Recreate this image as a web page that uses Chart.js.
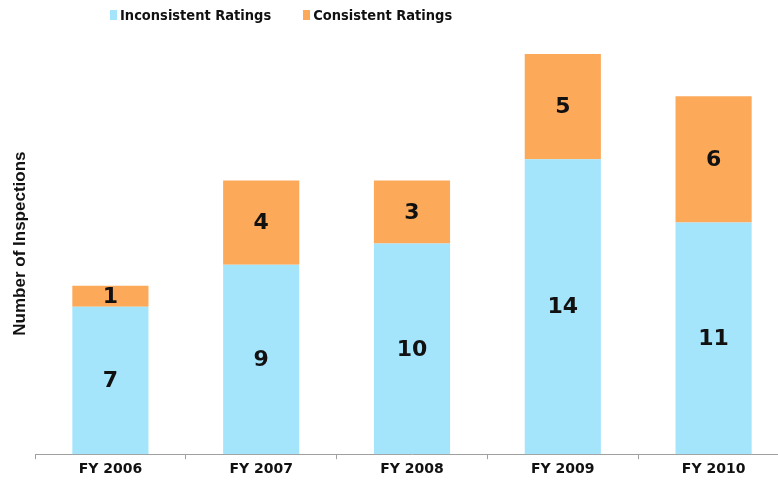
<!DOCTYPE html>
<html lang="en">
<head>
  <meta charset="UTF-8" />
  <title>Number of Inspections</title>
  <script src="https://cdn.jsdelivr.net/npm/chart.js"></script>
  <style>
    html, body { margin: 0; padding: 0; background: #fff; overflow: hidden; }
    .wrap { position: relative; width: 778px; height: 481px; overflow: hidden; }
    #legend {
      position: absolute;
      left: 110px;
      top: 7px;
      display: flex;
      font: bold 14.5px "DejaVu Sans Condensed", "DejaVu Sans", sans-serif;
      color: #111;
    }
    #legend .item { display: flex; align-items: center; margin-right: 32px; }
    #legend .box { width: 7px; height: 10px; margin-right: 3px; }
  </style>
</head>
<body>
  <div class="wrap">
    <!-- the plot runs a little past the right edge, as in the original -->
    <canvas id="chart" width="790" height="481"></canvas>
    <div id="legend"></div>
  </div>

  <script>
    const categories = ['FY 2006', 'FY 2007', 'FY 2008', 'FY 2009', 'FY 2010'];
    const inconsistent = [7, 9, 10, 14, 11];
    const consistent = [1, 4, 3, 5, 6];

    // numbers in the middle of each segment
    const segmentLabels = {
      id: 'segmentLabels',
      afterDatasetsDraw(chart) {
        const ctx = chart.ctx;
        ctx.save();
        ctx.font = 'bold 22px "DejaVu Sans", sans-serif';
        ctx.fillStyle = '#111';
        ctx.textAlign = 'center';
        ctx.textBaseline = 'middle';
        chart.data.datasets.forEach((ds, i) => {
          chart.getDatasetMeta(i).data.forEach((bar, j) => {
            ctx.fillText(ds.data[j], bar.x, (bar.y + bar.base) / 2 + 1);
          });
        });
        ctx.restore();
      }
    };

    // legend drawn as html, built from the chart's own legend items
    const htmlLegend = {
      id: 'htmlLegend',
      afterUpdate(chart) {
        const el = document.getElementById('legend');
        el.innerHTML = '';
        const items = chart.options.plugins.legend.labels.generateLabels(chart);
        items.forEach(item => {
          const div = document.createElement('div');
          div.className = 'item';
          const box = document.createElement('span');
          box.className = 'box';
          box.style.background = item.fillStyle;
          const txt = document.createElement('span');
          txt.textContent = item.text;
          div.appendChild(box);
          div.appendChild(txt);
          el.appendChild(div);
        });
      }
    };

    new Chart(document.getElementById('chart'), {
      type: 'bar',
      data: {
        labels: categories,
        datasets: [
          {
            label: 'Inconsistent Ratings',
            data: inconsistent,
            backgroundColor: '#a4e5fc',
            categoryPercentage: 0.505,
            barPercentage: 1
          },
          {
            label: 'Consistent Ratings',
            data: consistent,
            backgroundColor: '#fca95a',
            categoryPercentage: 0.505,
            barPercentage: 1
          }
        ]
      },
      options: {
        responsive: false,
        animation: false,
        layout: { padding: { top: 33, right: 1, bottom: 1, left: 4 } },
        plugins: {
          legend: { display: false },
          tooltip: { enabled: false }
        },
        scales: {
          x: {
            stacked: true,
            grid: { display: true, drawOnChartArea: false, tickLength: 5, color: '#a0a0a0' },
            border: { color: '#a0a0a0' },
            ticks: {
              padding: 2,
              color: '#111',
              font: { family: '"DejaVu Sans"', size: 14, weight: 'bold' }
            }
          },
          y: {
            stacked: true,
            min: 0,
            max: 20,
            afterFit(scale) { scale.width = 31; },
            grid: { display: false },
            border: { display: false },
            ticks: { display: false },
            title: {
              display: true,
              text: 'Number of Inspections',
              color: '#111',
              padding: { top: 6, bottom: 4 },
              font: { family: '"Liberation Sans"', size: 17, weight: 'bold' }
            }
          }
        }
      },
      plugins: [segmentLabels, htmlLegend]
    });
  </script>
</body>
</html>
